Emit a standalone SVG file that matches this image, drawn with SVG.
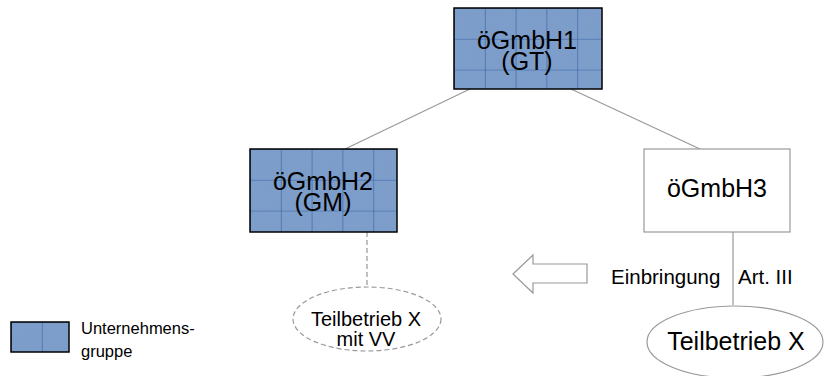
<svg xmlns="http://www.w3.org/2000/svg" width="826" height="376" viewBox="0 0 826 376">
<style>
text{font-family:"Liberation Sans",Arial,sans-serif;fill:#000}
.big{font-size:25px;text-anchor:middle}
.ell{font-size:20px;text-anchor:middle}
.mid{font-size:20.5px}
.sm{font-size:16.5px}
.con{stroke:#999;stroke-width:1.2;fill:none}
.dash{stroke:#999;stroke-width:1.2;fill:none;stroke-dasharray:5 3}
.grp{stroke:#000;stroke-width:1.5}
</style>
<defs>
<pattern id="tex" width="2" height="2" patternUnits="userSpaceOnUse">
<rect width="2" height="2" fill="#86A5CF"/>
<rect width="1" height="1" fill="#7496C5"/>
<rect x="1" y="1" width="1" height="1" fill="#7496C5"/>
</pattern>
<pattern id="g1" x="454" y="8" width="30.8" height="30.8" patternUnits="userSpaceOnUse">
<rect width="30.8" height="30.8" fill="url(#tex)"/>
<path d="M0 0V30.8M0 0H30.8" stroke="#3363A3" stroke-width="1.2"/>
</pattern>
<pattern id="g2" x="250" y="149" width="30.8" height="30.8" patternUnits="userSpaceOnUse">
<rect width="30.8" height="30.8" fill="url(#tex)"/>
<path d="M0 0V30.8M0 0H30.8" stroke="#3363A3" stroke-width="1.2"/>
</pattern>
<pattern id="g3" x="11" y="322" width="30.8" height="30.8" patternUnits="userSpaceOnUse">
<rect width="30.8" height="30.8" fill="url(#tex)"/>
<path d="M0 0V30.8M0 0H30.8" stroke="#3363A3" stroke-width="1.2"/>
</pattern>
</defs>
<g id="connectors">
<line class="con" x1="470" y1="89" x2="345" y2="149"/>
<line class="con" x1="571" y1="89" x2="700" y2="149"/>
<line class="dash" x1="367" y1="232" x2="367" y2="287"/>
<line class="con" x1="733" y1="232" x2="733" y2="305"/>
</g>
<g id="n1">
<rect class="grp" x="454" y="8" width="148" height="81" fill="url(#g1)"/>
<text class="big" x="527" y="49">öGmbH1</text>
<text class="big" x="527" y="70">(GT)</text>
</g>
<g id="n2">
<rect class="grp" x="250" y="149" width="147" height="83" fill="url(#g2)"/>
<text class="big" x="323" y="190">öGmbH2</text>
<text class="big" x="323" y="211">(GM)</text>
</g>
<g id="n3">
<rect x="644" y="149" width="146" height="83" fill="#fff" stroke="#999" stroke-width="1.2"/>
<text class="big" x="717" y="197">öGmbH3</text>
</g>
<g id="n4">
<ellipse class="dash" cx="367" cy="319" rx="74" ry="32"/>
<text class="ell" x="366" y="326">Teilbetrieb X</text>
<text class="ell" x="366" y="346">mit VV</text>
</g>
<g id="n5">
<ellipse cx="735" cy="342" rx="88" ry="36" fill="none" stroke="#999" stroke-width="1.2"/>
<text class="big" x="736" y="350">Teilbetrieb X</text>
</g>
<g id="arrow">
<path d="M513 274 L533 255 L533 264 L587 264 L587 283 L533 283 L533 293 Z" fill="#fff" stroke="#999" stroke-width="1.2"/>
</g>
<g id="labels">
<text class="mid" x="611" y="284">Einbringung</text>
<text class="mid" x="738" y="284">Art. III</text>
</g>
<g id="legend">
<rect class="grp" x="11" y="322" width="58" height="30" fill="url(#g3)"/>
<text class="sm" x="81" y="334">Unternehmens-</text>
<text class="sm" x="81" y="357">gruppe</text>
</g>
</svg>
